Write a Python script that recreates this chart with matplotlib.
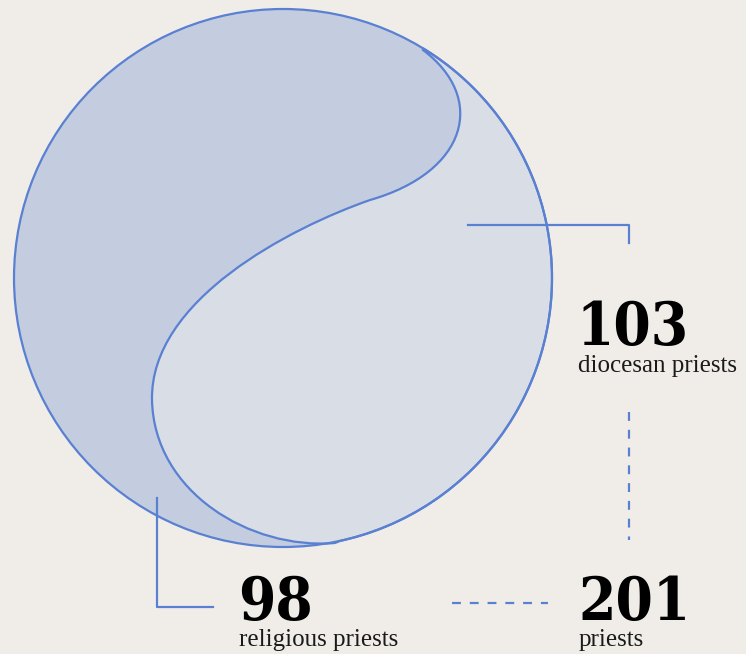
import numpy as np
import matplotlib
matplotlib.use("Agg")
import matplotlib.pyplot as plt
from matplotlib.path import Path
from matplotlib.patches import PathPatch, Circle
from matplotlib import font_manager as fm

print([f.name + " " + str(f.stretch) for f in fm.fontManager.ttflist if "Serif" in f.name])

# values
labels = ["diocesan priests", "religious priests", "priests"]
counts = [103, 98, 201]

bg = "#f0ede9"
blue = "#5a80d2"
dark_fill = "#c4cde0"
light_fill = "#d8dde6"

fig = plt.figure(figsize=(7.46, 6.54), dpi=100, facecolor=bg)
ax = fig.add_axes([0, 0, 1, 1])
ax.set_xlim(0, 746)
ax.set_ylim(654, 0)
ax.axis("off")
ax.set_facecolor(bg)

# main circle (pixel units)
cx, cy, r = 283, 278, 269
ax.add_patch(Circle((cx, cy), r, facecolor=dark_fill, edgecolor="none", zorder=1))

# s-curve splitting the circle
p0 = (423, 50)
p3 = (335, 543)
verts = [p0,
         (487, 98), (468, 172), (370, 200),
         (290, 228), (150, 300), (152, 400),
         (154, 492), (250, 550), p3]
codes = [Path.MOVETO] + [Path.CURVE4] * 9

a_start = np.arctan2(p3[1] - cy, p3[0] - cx)
a_end = np.arctan2(p0[1] - cy, p0[0] - cx)
angs = np.linspace(a_start, a_end, 120)
for a in angs[1:]:
    verts.append((cx + r * np.cos(a), cy + r * np.sin(a)))
    codes.append(Path.LINETO)
verts.append(p0)
codes.append(Path.CLOSEPOLY)
ax.add_patch(PathPatch(Path(verts, codes), facecolor=light_fill, edgecolor=blue,
                       lw=1.6, zorder=2))
ax.add_patch(Circle((cx, cy), r, facecolor="none", edgecolor=blue, lw=1.6, zorder=3))

# connectors
ax.plot([468, 629, 629], [225, 225, 243], color=blue, lw=1.6, zorder=4)
ax.plot([157, 157, 213], [498, 607, 607], color=blue, lw=1.6, zorder=4)
ax.plot([629, 629], [412, 540], color=blue, lw=1.6, ls=(0, (4, 4)), zorder=4)
ax.plot([452, 548], [603, 603], color=blue, lw=1.6, ls=(0, (4, 4)), zorder=4)

num_kw = dict(family="DejaVu Serif", stretch="condensed", weight="bold", fontsize=43,
              color="black", va="baseline", ha="left")
lab_kw = dict(family="Liberation Serif", fontsize=18, color="#1a1a1a",
              va="baseline", ha="left")

ax.text(576, 345, str(counts[0]), **num_kw)
ax.text(578, 372, labels[0], **lab_kw)
ax.text(238, 620, str(counts[1]), **num_kw)
ax.text(239, 646, labels[1], **lab_kw)
ax.text(578, 620, str(counts[2]), **num_kw)
ax.text(579, 646, labels[2], **lab_kw)

fig.savefig("out.png", dpi=100, facecolor=bg)
